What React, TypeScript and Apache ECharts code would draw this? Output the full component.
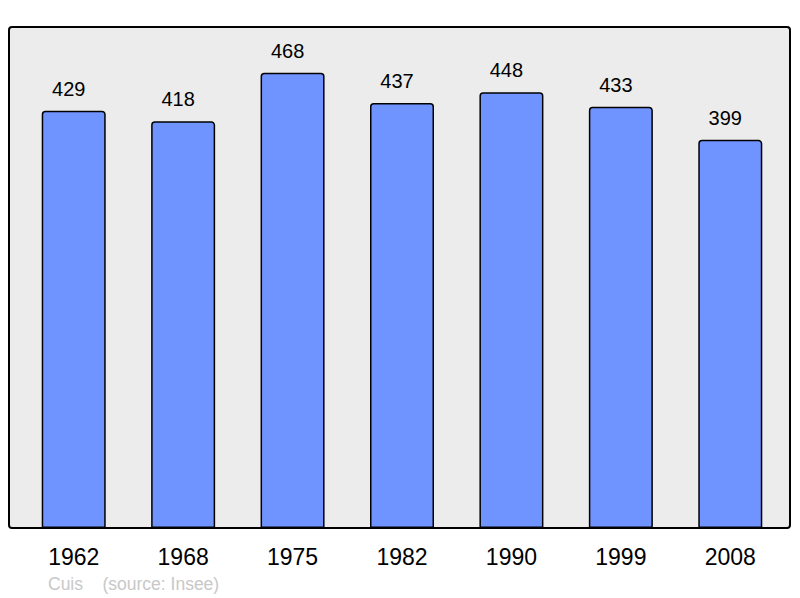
import { useEffect, useRef } from 'react';
import * as echarts from 'echarts';

const years = ['1962', '1968', '1975', '1982', '1990', '1999', '2008'];
const population = [429, 418, 468, 437, 448, 433, 399];
const footer = 'Cuis    (source: Insee)';

export default function App() {
  const ref = useRef<HTMLDivElement>(null);

  useEffect(() => {
    const dom = ref.current;
    if (!dom) return;
    const chart = echarts.init(dom, null, { renderer: 'svg' });

    chart.setOption({
      animation: false,
      textStyle: { fontFamily: 'Liberation Sans, Arial, sans-serif' },
      graphic: [
        {
          type: 'rect',
          z: -10,
          shape: { x: 9, y: 27, width: 781, height: 501, r: 3 },
          style: { fill: '#ececec', stroke: '#000', lineWidth: 2 },
        },
        {
          type: 'text',
          left: 48,
          top: 575,
          style: { text: footer, fill: '#c8c8c8', fontSize: 17.5, fontFamily: 'Liberation Sans, Arial, sans-serif' },
        },
      ],
      grid: { left: 19, right: 15, top: 27, bottom: 70 },
      xAxis: {
        type: 'category',
        data: years,
        axisLine: { show: false },
        axisTick: { show: false },
        axisLabel: { color: '#000', fontSize: 23, margin: 17 },
      },
      yAxis: {
        type: 'value',
        min: 0,
        max: 515,
        show: false,
        splitLine: { show: false },
      },
      series: [
        {
          type: 'bar',
          data: population,
          barWidth: 64,
          itemStyle: {
            color: '#7094ff',
            borderColor: '#000',
            borderWidth: 1.5,
            borderRadius: [3, 3, 0, 0],
          },
          label: {
            show: true,
            position: 'top',
            distance: 12,
            offset: [-5, 0],
            color: '#000',
            fontSize: 20,
          },
        },
      ],
    } as echarts.EChartsOption);

    return () => chart.dispose();
  }, []);

  return (
    <div
      ref={ref}
      style={{ position: 'absolute', left: 0, top: 0, width: 800, height: 598, background: '#fff' }}
    />
  );
}
